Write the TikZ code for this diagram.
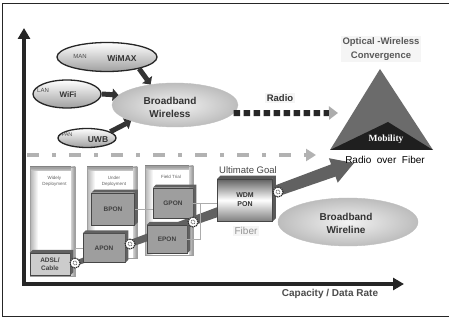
\documentclass[tikz,border=0pt]{standalone}
\usepackage{fontspec}
\setmainfont{Liberation Sans}
\newfontfamily\mobfont{Liberation Serif}
\usetikzlibrary{shapes.geometric,arrows.meta,calc}

% one deployment stage: an open 3D frame with a small caption
\newcommand\stagecol[5]{%
  \fill[white] (#1,#3) rectangle (#2,#4);
  \shade[left color=gray!60, right color=white] (#1,#3) rectangle (#1+8,#4);
  \shade[top color=gray!85, bottom color=gray!35] (#1,#3) rectangle (#2,#3+4);
  \shade[left color=gray!35, right color=gray!85] (#2-4,#3) rectangle (#2,#4);
  \draw[gray!75, line width=0.4pt] (#1,#3) rectangle (#2,#4);
  \node[font=\fontsize{4.5}{5.5}\selectfont, text=gray!75!black, align=center, anchor=north]
    at ({(#1+#2)/2+2},#3+6) {#5};
}

\begin{document}
\begin{tikzpicture}[x=1pt,y=-1pt,
  smallell/.style={ellipse, draw=black!85, line width=1.3pt, top color=white,
    bottom color=gray!75, inner sep=0pt},
  bigell/.style={ellipse, draw=gray!50, line width=0.4pt, inner color=gray!10,
    outer color=gray!52, inner sep=0pt},
  fat/.style={line width=5pt, draw=black!80, -{Triangle[length=6pt,width=12pt]}},
  ponbox/.style={draw=gray!55!black, line width=0.5pt, fill=black!38,
    font=\bfseries\fontsize{6.5}{7.5}\selectfont, text=black!75, align=center, inner sep=0pt},
  gear/.style={circle, draw=black!85, fill=white, line width=1.1pt,
    dash pattern=on 1.3pt off 0.7pt, minimum size=10pt, inner sep=0pt,
    path picture={\draw[black!80, line width=0.5pt] (path picture bounding box.center) circle (2pt);}},
  link/.style={draw=gray!65, line width=0.6pt},
  note/.style={inner sep=1.5pt, align=center},
]
\useasboundingbox (0,0) rectangle (449,320);
\fill[white] (0,0) rectangle (449,320);

% frame
\draw[line width=0.9pt, black!85] (449,3.5) -- (2.5,3.5) -- (2.5,316.5) -- (449,316.5);

% deployment stages
\stagecol{30}{75}{167}{276}{Widely\\Deployment}
\stagecol{87}{137}{167}{258}{Under\\Deployment}
\stagecol{145}{193}{166}{255}{Field Trial}

% growth band of the PON generations
\coordinate (g0) at (68,266);
\coordinate (g1) at (354,163);
\coordinate (gs) at ($(g1)!22pt!(g0)$);
\fill[black!62]
  ($(g0)!2.5pt!90:(g1)$) -- ($(gs)!6.5pt!90:(g1)$) -- ($(gs)!13pt!90:(g1)$) -- (g1)
  -- ($(gs)!13pt!-90:(g1)$) -- ($(gs)!6.5pt!-90:(g1)$) -- ($(g0)!2.5pt!-90:(g1)$) -- cycle;

% PON boxes
\node[ponbox, fill=black!20, minimum width=40pt, minimum height=22pt] (adsl) at (50,264) {ADSL/\\Cable};
\node[ponbox, minimum width=42pt, minimum height=29pt] (apon) at (104,248) {APON};
\node[ponbox, minimum width=43pt, minimum height=32pt] (bpon) at (113,209) {BPON};
\node[ponbox, minimum width=40pt, minimum height=28pt] (epon) at (167,239) {EPON};
\node[ponbox, minimum width=40pt, minimum height=30pt] (gpon) at (173,203) {GPON};
\foreach \b in {adsl,apon,bpon,epon,gpon}{
  \fill[black!62] (\b.north west) -- ++(3,-3) -- ($(\b.north east)+(3,-3)$)
    -- ($(\b.south east)+(3,-3)$) -- (\b.south east) -- (\b.north east) -- cycle;
}
\node[ponbox, top color=black!62, bottom color=black!50, middle color=white,
  font=\bfseries\fontsize{7}{9}\selectfont, text=black!80,
  minimum width=55pt, minimum height=42pt] (wdm) at (245,200) {WDM\\PON};
\fill[black!65] (wdm.north west) -- ++(3,-3) -- ($(wdm.north east)+(3,-3)$)
  -- ($(wdm.south east)+(3,-3)$) -- (wdm.south east) -- (wdm.north east) -- cycle;

% joints on the band
\node[gear] (c1) at (75,263) {};
\node[gear] (c2) at (130,244) {};
\node[gear] (c3) at (193,222) {};
\node[gear] (c4) at (278,192) {};

% thin links between the stages
\draw[link] (c1.north) |- (apon.west);
\draw[link] (bpon.east) -- (gpon.west |- bpon.east);
\draw[link] (gpon.east) -- ++(7,0) |- (epon.east);
\draw[link] (gpon.east) -- (wdm.west |- gpon.east);

% axes
\coordinate (origin) at (24,284);
\coordinate (ytop) at (24,28);
\coordinate (xend) at (404,284);
\draw[line width=3.5pt, black!85, line join=miter,
  {Triangle[length=11pt,width=12pt]}-{Triangle[length=11pt,width=12pt]}]
  (ytop) -- (origin) -- (xend);
\node[font=\bfseries\fontsize{10}{12}\selectfont, text=black!70] (xlabel) at (330,294) {Capacity / Data Rate};

% radio over fiber line
\coordinate (dstart) at (27,155);
\coordinate (dend) at (316,155);
\draw[line width=4pt, gray!60, dash pattern=on 12pt off 13pt on 4pt off 13pt,
  -{Triangle[length=10pt,width=12pt]}] (dstart) -- (dend);

% convergence triangle
\fill[black!58] (330,150) -- (380,69) -- (433,150) -- cycle;
\fill[black!88] (330,150) -- (388,122) -- (433,150) -- cycle;
\node[font=\mobfont\bfseries\fontsize{9.5}{11}\selectfont, text=white] (mob) at (386,139) {Mobility};
\node[note, fill=gray!8, font=\bfseries\fontsize{9.5}{13.5}\selectfont, text=gray!70!black]
  (conv) at (381,49) {Optical -Wireless\\Convergence};
\node[font=\fontsize{10}{12}\selectfont] (rof) at (385,160) {Radio\ \ over\ \ Fiber};

% wireless access ellipses
\node[bigell, minimum width=126pt, minimum height=44pt] (bw) at (175,105) {};
\node[font=\bfseries\fontsize{10}{13}\selectfont, text=black!80, align=center] (bwtxt) at (170,107) {Broadband\\Wireless};
\node[smallell, minimum width=100pt, minimum height=29pt] (wimax) at (107,57) {};
\node[smallell, minimum width=68pt, minimum height=28pt] (wifi) at (67,94) {};
\node[smallell, minimum width=58pt, minimum height=19pt] (uwb) at (87,138) {};
\node[font=\fontsize{6}{7}\selectfont, text=black!70] (man) at (80,56) {MAN};
\node[font=\bfseries\fontsize{8.5}{10}\selectfont, text=black!80] (wimaxt) at (122,58) {WiMAX};
\node[font=\fontsize{6}{7}\selectfont, text=black!70] (lan) at (43,90) {LAN};
\node[font=\bfseries\fontsize{8}{10}\selectfont, text=black!80] (wifit) at (68,95) {WiFi};
\node[font=\fontsize{5.5}{7}\selectfont, text=black!70] (pan) at (67,135) {PAN};
\node[font=\bfseries\fontsize{8.5}{10}\selectfont, text=black!80] (uwbt) at (98,140) {UWB};
\draw[fat] (wimax.-20) -- (bw.140);
\draw[fat] (wifi.east) -- (bw.170);
\draw[fat] (uwb.15) -- (bw.200);

% radio link
\coordinate (rend) at (338,113);
\draw[line width=6pt, black!85, dash pattern=on 6.5pt off 3.5pt,
  -{Triangle[length=9pt,width=13pt,color=gray!65]}] (bw.-8) -- (rend);
\node[note, fill=gray!8, font=\bfseries\fontsize{9.5}{11}\selectfont, text=black!80] (radio) at (280,98) {Radio};

% fiber side
\node[font=\fontsize{9.5}{11}\selectfont, text=gray!55!black] (goal) at (248,170) {Ultimate Goal};
\node[note, fill=gray!8, font=\fontsize{10}{12}\selectfont, text=black!42] (fiber) at (246,231) {Fiber};
\node[bigell, minimum width=140pt, minimum height=48pt] (bwl) at (348,222) {};
\node[font=\bfseries\fontsize{10}{13}\selectfont, text=black!80, align=center] (bwltxt) at (346,223) {Broadband\\Wireline};
\end{tikzpicture}
\end{document}
